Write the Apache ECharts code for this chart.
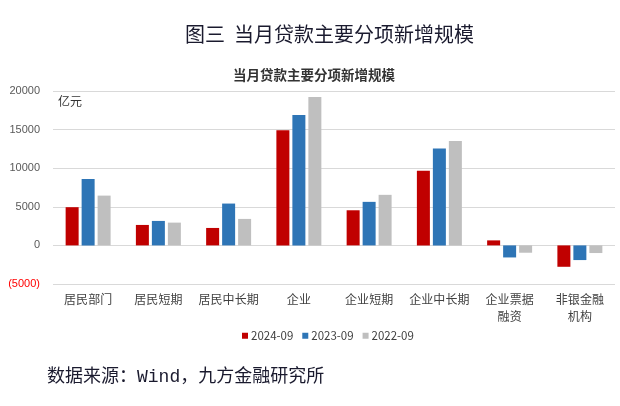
<!DOCTYPE html>
<html>
<head>
<meta charset="utf-8">
<script src="https://cdn.jsdelivr.net/npm/echarts@6/dist/echarts.min.js"></script>
<style>
html,body{margin:0;padding:0;background:#fff;}
#chart{width:620px;height:406px;}
</style>
</head>
<body>
<div id="chart"></div>
<script>
var categories = ['居民部门','居民短期','居民中长期','企业','企业短期','企业中长期','企业票据\n融资','非银金融\n机构'];
var seriesNames = ['2024-09','2023-09','2022-09'];
var s2024 = [4950, 2650, 2260, 14900, 4550, 9660, 650, -2770];
var s2023 = [8600, 3170, 5420, 16880, 5640, 12560, -1560, -1900];
var s2022 = [6450, 2950, 3430, 19220, 6550, 13510, -950, -990];
var yTicks = [-5000, 0, 5000, 10000, 15000, 20000];
var colors = ['#C00000', '#2E75B6', '#BFBFBF'];

var chart = echarts.init(document.getElementById('chart'), null, {renderer:'canvas'});
var cjk = '"Microsoft YaHei","Noto Sans CJK SC",sans-serif';
var makeSeries = function(name, data, color){
  return {
    name: name, type: 'bar', data: data, barWidth: 13, barGap: '23%',
    itemStyle: {color: color},
    emphasis: {disabled: true}
  };
};
chart.setOption({
  animation: false,
  color: colors,
  grid: {left: 53, right: 5, top: 91, bottom: 122},
  graphic: [
    {type:'text', left: 185, top: 24, style:{text:'图三  当月贷款主要分项新增规模', font:'20px '+cjk, fill:'#1a1a2e'}},
    {type:'text', left: 233, top: 68, style:{text:'当月贷款主要分项新增规模', font:'bold 13.5px '+cjk, fill:'#333'}},
    {type:'text', left: 58, top: 95, style:{text:'亿元', font:'12px '+cjk, fill:'#333'}},
    {type:'text', left: 47, top: 368, style:{text:'数据来源：Wind，九方金融研究所', font:'18px "Liberation Mono","Noto Sans CJK SC",monospace', fill:'#1a1a2e'}}
  ],
  legend: {
    data: seriesNames, top: 325, left: 237, icon: 'rect', itemWidth: 6, itemHeight: 6, itemGap: 9,
    textStyle: {fontSize: 11.5, color: '#404040', fontFamily: cjk, padding: [0, 0, 0, -2]}
  },
  xAxis: {
    type: 'category', data: categories,
    axisLine: {show: false, onZero: false}, axisTick: {show: false},
    axisLabel: {fontSize: 12, color: '#404040', margin: 7, lineHeight: 17, fontFamily: cjk, interval: 0}
  },
  yAxis: {
    type: 'value', min: yTicks[0], max: yTicks[yTicks.length-1], interval: 5000,
    axisLine: {show: false}, axisTick: {show: false},
    splitLine: {lineStyle: {color: '#D9D9D9', width: 1}},
    axisLabel: {
      fontSize: 11, color: '#595959', margin: 13, fontFamily: 'Arial, "Liberation Sans", sans-serif',
      formatter: function(v){ return v < 0 ? '{neg|(' + Math.abs(v) + ')}' : String(v); },
      rich: {neg: {color: '#FF0000', fontSize: 11, fontFamily: 'Arial, "Liberation Sans", sans-serif'}}
    }
  },
  series: [
    makeSeries(seriesNames[0], s2024, colors[0]),
    makeSeries(seriesNames[1], s2023, colors[1]),
    makeSeries(seriesNames[2], s2022, colors[2])
  ]
});
</script>
</body>
</html>
